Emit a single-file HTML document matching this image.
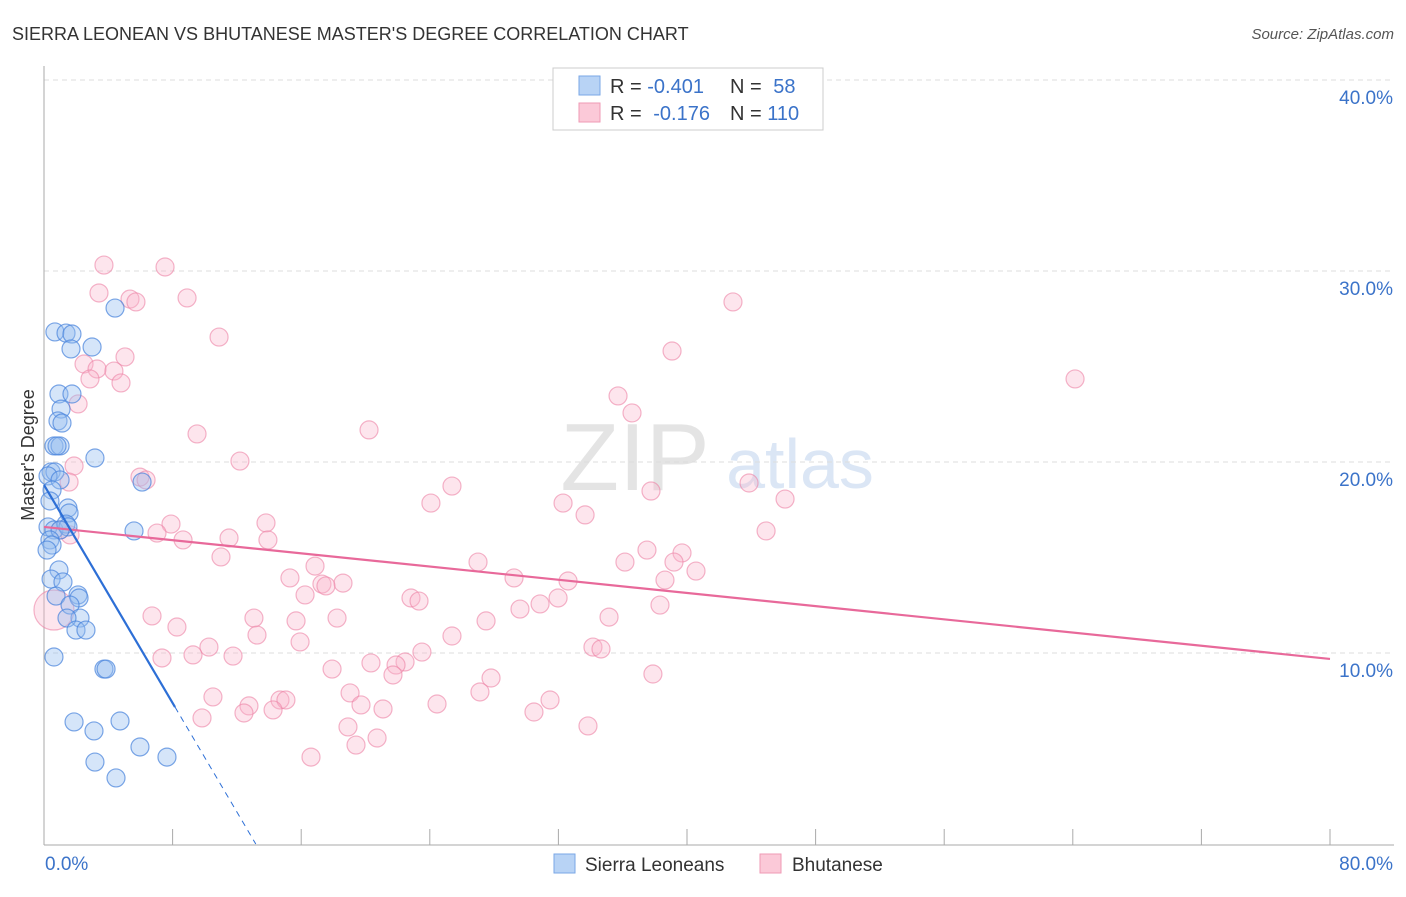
<!DOCTYPE html>
<html><head><meta charset="utf-8"><style>
body{margin:0;background:#fff;font-family:"Liberation Sans",sans-serif}
svg text{font-family:"Liberation Sans",sans-serif}
</style></head><body>
<svg id="chart" width="1406" height="892" viewBox="0 0 1406 892" xmlns="http://www.w3.org/2000/svg">
<text x="12" y="40" font-size="18" fill="#333">SIERRA LEONEAN VS BHUTANESE MASTER'S DEGREE CORRELATION CHART</text>
<text x="1394" y="39" font-size="15" fill="#555" font-style="italic" text-anchor="end">Source: ZipAtlas.com</text>
<text x="635" y="490" font-size="96" fill="#e4e4e4" font-family="Liberation Serif" text-anchor="middle">ZIP</text>
<text x="800" y="488" font-size="70" fill="#dbe6f5" text-anchor="middle">atlas</text>
<g id="grid"></g>
<g id="axes"></g>
<g id="points"></g>
<g id="trends"></g>
<text transform="translate(34,455) rotate(-90)" font-size="18" fill="#333" text-anchor="middle">Master's Degree</text>
<g>
<rect x="553" y="68" width="270" height="62" fill="#fff" stroke="#ccc"/>
<rect x="579" y="76" width="21" height="19" fill="#b8d3f5" stroke="#7aa7e6"/>
<rect x="579" y="103" width="21" height="19" fill="#fbc9d8" stroke="#ef9ab5"/>
<text x="610" y="93" font-size="20" fill="#333">R = <tspan fill="#3b73c9">-0.401</tspan></text>
<text x="730" y="93" font-size="20" fill="#333">N = <tspan fill="#3b73c9" dx="6">58</tspan></text>
<text x="610" y="120" font-size="20" fill="#333">R = <tspan fill="#3b73c9" dx="6">-0.176</tspan></text>
<text x="730" y="120" font-size="20" fill="#333">N = <tspan fill="#3b73c9">110</tspan></text>
</g>
<g>
<rect x="554" y="854" width="21" height="19" fill="#b8d3f5" stroke="#7aa7e6"/>
<text x="585" y="871" font-size="19" fill="#333">Sierra Leoneans</text>
<rect x="760" y="854" width="21" height="19" fill="#fbc9d8" stroke="#ef9ab5"/>
<text x="792" y="871" font-size="19" fill="#333">Bhutanese</text>
</g>
</svg>
<script>
const yTicks=[10,20,30,40];
const yTickLabels=["10.0%","20.0%","30.0%","40.0%"];
const xTickLabels=["0.0%","80.0%"];
const blueX=[4.42,.68,1.37,1.74,1.68,2.99,.93,1.74,1.06,.87,1.12,.62,1.0,.81,3.17,.44,.68,.25,1.0,6.10,.5,.37,1.49,1.56,5.6,.25,.62,1.37,1.49,1.0,.37,.5,.19,.93,.44,1.18,2.12,2.18,.75,1.62,2.24,1.43,1.99,2.61,.62,3.73,3.86,1.87,4.73,3.11,5.97,3.17,7.65,4.48];
const blueY=[28.06,26.81,26.75,26.70,25.92,26.02,23.56,23.56,22.77,22.15,22.04,20.84,20.84,20.84,20.21,19.48,19.48,19.27,19.06,18.95,18.53,17.96,17.59,17.33,16.39,16.6,16.44,16.75,16.6,16.44,15.92,15.65,15.39,14.35,13.87,13.72,13.04,12.88,12.98,12.51,11.83,11.83,11.2,11.2,9.79,9.16,9.16,6.39,6.44,5.92,5.08,4.29,4.55,3.46];
const pinkX=[3.73,7.53,3.42,5.35,5.72,8.9,42.86,10.89,39.07,5.04,2.49,3.3,4.35,2.86,4.79,64.14,2.12,35.71,36.58,20.22,9.52,12.19,1.87,5.97,6.35,1.56,25.38,37.76,43.86,24.07,32.29,46.1,33.66,13.81,7.9,44.92,7.03,11.51,8.65,13.93,1.0,1.62,37.51,39.69,11.01,27.0,16.86,39.19,40.56,15.3,36.14,29.24,32.6,38.63,17.29,18.6,17.54,16.24,31.98,22.83,23.33,30.86,38.32,29.61,6.72,13.06,15.68,18.23,35.15,27.5,8.27,13.25,25.38,15.93,10.26,34.15,34.65,9.27,11.76,7.34,23.51,17.92,20.34,22.46,21.9,21.71,27.81,37.88,27.12,19.04,10.51,14.68,15.05,19.72,31.48,24.45,21.09,12.75,14.25,12.44,30.48,9.83,18.91,33.84,20.72,19.41,16.61,.62];
const pinkY=[30.31,30.21,28.85,28.53,28.38,28.59,28.38,26.54,25.81,25.5,25.13,24.87,24.76,24.35,24.14,24.35,23.04,23.46,22.57,21.68,21.47,20.05,19.79,19.21,19.06,18.95,18.74,18.48,18.9,17.85,17.85,18.06,17.23,16.81,16.75,16.39,16.28,16.02,15.92,15.92,16.44,16.18,15.39,15.24,15.03,14.76,14.55,14.76,14.29,13.93,14.76,13.93,13.77,13.82,13.61,13.66,13.51,13.04,12.88,12.88,12.72,12.57,12.51,12.3,11.94,11.83,11.68,11.83,11.88,11.68,11.36,10.94,10.89,10.58,10.31,10.31,10.21,9.9,9.84,9.74,10.05,9.16,9.48,9.53,9.37,8.85,8.69,8.9,7.96,7.91,7.7,7.54,7.54,7.28,7.54,7.33,7.07,7.23,7.02,6.86,6.91,6.6,6.13,6.18,5.55,5.18,4.55,12.25];
const blueTrend=[18.8,-1.427];
const pinkTrend=[16.6,-0.0864];
const NS="http://www.w3.org/2000/svg";
const xS=v=>44+v*16.075;
const yS=v=>844-v*19.1;
function mk(tag,attrs,parent){const e=document.createElementNS(NS,tag);for(const k in attrs)e.setAttribute(k,attrs[k]);document.getElementById(parent).appendChild(e);return e;}
yTicks.forEach((t,i)=>{
 const g=mk('line',{x1:44,x2:1394,y1:yS(t),y2:yS(t),stroke:'#ddd','stroke-dasharray':'5,4'},'grid');
 
 
 const l=mk('text',{x:1393,y:yS(t)+24,'font-size':19,fill:'#3b73c9','text-anchor':'end'},'axes');
 l.textContent=yTickLabels[i];
 
 
});
const ya=mk('line',{x1:44,x2:44,y1:66,y2:845,stroke:'#aaa'},'axes');


const xa=mk('line',{x1:44,x2:1394,y1:845,y2:845,stroke:'#aaa'},'axes');


for(let i=1;i<=10;i++){const t=mk('line',{x1:xS(i*8),x2:xS(i*8),y1:829,y2:845,stroke:'#aaa'},'axes');
 
 }
[[0,'start',45],[80,'end',1393]].forEach((a,i)=>{const t=mk('text',{x:a[2],y:870,'font-size':19,fill:'#3b73c9','text-anchor':a[1]},'axes');t.textContent=xTickLabels[i];
 
 });
pinkX.forEach((x,i)=>{const c=mk('circle',{cx:xS(x),cy:yS(pinkY[i]),r:(i==pinkX.length-1?20:9),fill:'rgba(248,180,203,0.35)',stroke:'rgba(236,130,165,0.6)','stroke-width':1.2},'points');
 
 });
blueX.forEach((x,i)=>{const c=mk('circle',{cx:xS(x),cy:yS(blueY[i]),r:9,fill:'rgba(150,190,240,0.4)',stroke:'rgba(70,130,220,0.7)','stroke-width':1.2},'points');
 
 });
const pt=mk('line',{x1:xS(0),y1:yS(pinkTrend[0]),x2:xS(80),y2:yS(pinkTrend[0]+80*pinkTrend[1]),stroke:'#e8699a','stroke-width':2.2},'trends');


const bx1=8.15,bx2=-blueTrend[0]/blueTrend[1];
const bt=mk('line',{x1:xS(0),y1:yS(blueTrend[0]),x2:xS(bx1),y2:yS(blueTrend[0]+bx1*blueTrend[1]),stroke:'#2d6fd6','stroke-width':2.2},'trends');


const bd=mk('line',{x1:xS(bx1),y1:yS(blueTrend[0]+bx1*blueTrend[1]),x2:xS(bx2),y2:yS(0),stroke:'#2d6fd6','stroke-width':1,'stroke-dasharray':'6,5'},'trends');


</script>
</body></html>
